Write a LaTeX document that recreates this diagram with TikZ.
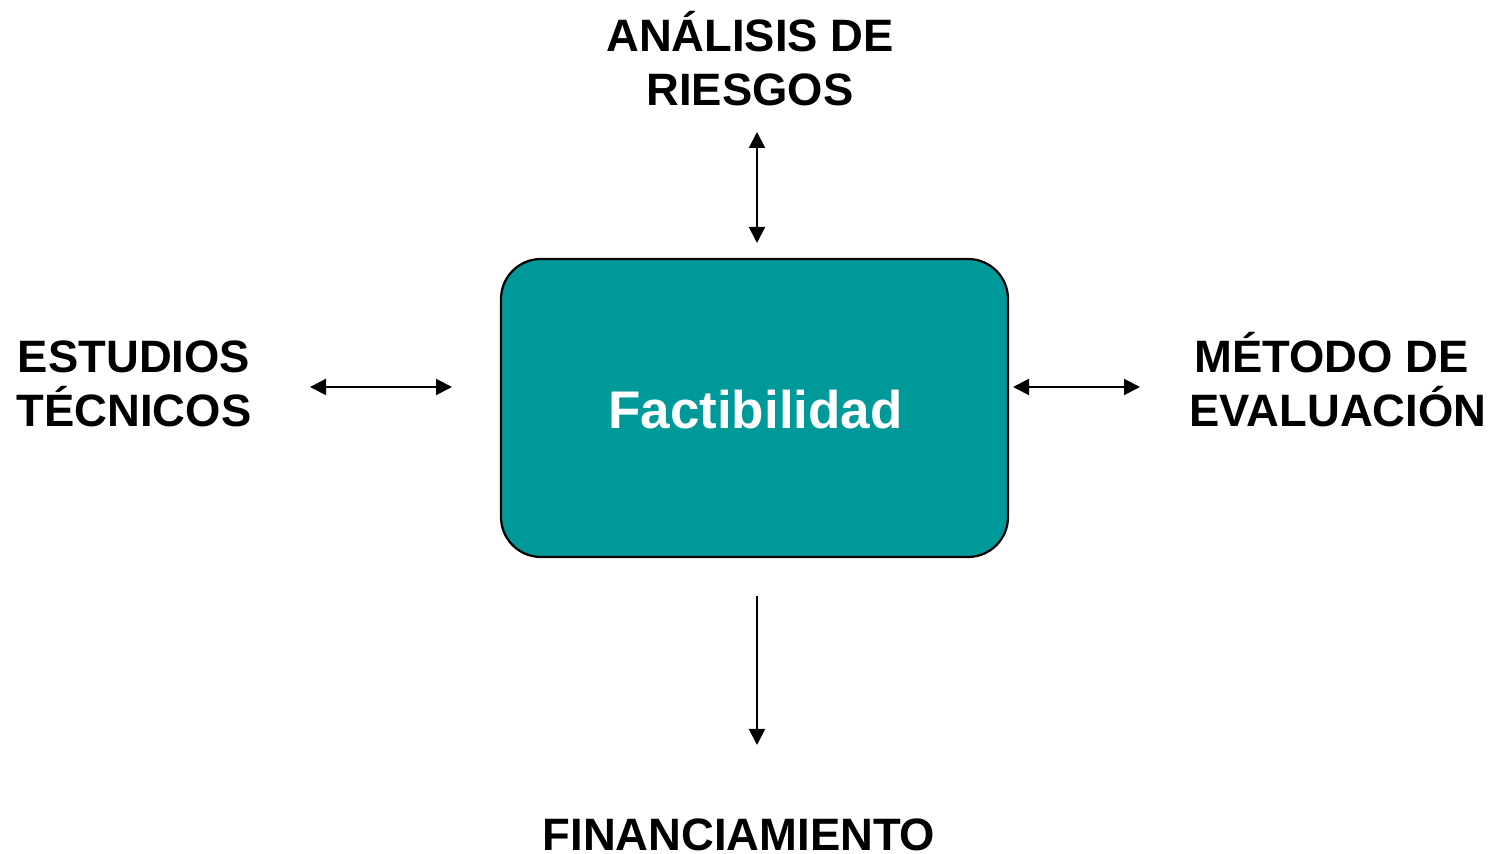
\documentclass[tikz,border=0pt]{standalone}
\usepackage{fontspec}
\setmainfont{Liberation Sans}
\usetikzlibrary{arrows.meta}
\definecolor{teal1}{HTML}{009999}
\tikzset{
  lbl/.style={font=\fontsize{22.7}{27}\selectfont\bfseries, align=center, inner sep=0pt, text=black},
  mainbox/.style={draw=black, line width=1.1pt, fill=teal1, rounded corners=20pt, minimum width=253.5pt, minimum height=149pt, inner sep=0pt},
  link/.style={line width=1pt, draw=black},
  dbl/.style={link, {Triangle[length=8pt,width=8pt]}-{Triangle[length=8pt,width=8pt]}},
  sgl/.style={link, -{Triangle[length=8pt,width=8pt]}}
}
\begin{document}
\begin{tikzpicture}[x=0.5pt,y=-0.5pt]
\useasboundingbox (0,0) rectangle (1496,854);
\node[mainbox] (box) at (754.5,408) {};
\node[font=\fontsize{26.5}{30}\selectfont\bfseries, text=white, inner sep=0pt] (fact) at (755.5,410) {Factibilidad};
\node[lbl] (top) at (750,59) {ANÁLISIS DE\\RIESGOS};
\node[lbl] (left) at (134,384) {ESTUDIOS\\TÉCNICOS};
\node[lbl] (right) at (1338,380) {MÉTODO DE\hspace{0.278em}\mbox{}\\EVALUACIÓN};
\node[lbl] (bottom) at (739,835) {FINANCIAMIENTO};
\coordinate (t1) at (757,132);
\coordinate (t2) at (757,243);
\coordinate (l1) at (310,387);
\coordinate (l2) at (452,387);
\coordinate (r1) at (1013,387);
\coordinate (r2) at (1140,387);
\coordinate (b1) at (757,596);
\coordinate (b2) at (757,745);
\draw[dbl] (t1) -- (t2);
\draw[dbl] (l1) -- (l2);
\draw[dbl] (r1) -- (r2);
\draw[sgl] (b1) -- (b2);
\end{tikzpicture}
\end{document}
